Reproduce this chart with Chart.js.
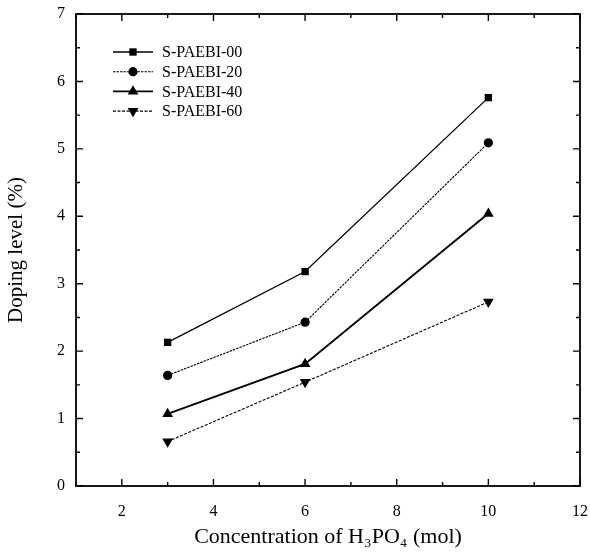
<!DOCTYPE html>
<html><head><meta charset="utf-8">
<script src="https://cdn.jsdelivr.net/npm/chart.js@4/dist/chart.umd.min.js"></script>
<style>html,body{margin:0;padding:0;background:#fff}#wrap{width:590px;height:554px}</style>
</head><body><div id="wrap"><canvas id="c" width="590" height="554"></canvas></div>
<script>
const concentrations = [3, 6, 10];
const seriesNames = ["S-PAEBI-00", "S-PAEBI-20", "S-PAEBI-40", "S-PAEBI-60"];
const paebi00 = [2.13, 3.18, 5.76];
const paebi20 = [1.64, 2.43, 5.09];
const paebi40 = [1.07, 1.81, 4.04];
const paebi60 = [0.66, 1.54, 2.73];
const xTickLabels = [2, 4, 6, 8, 10, 12];
const yTickLabels = [0, 1, 2, 3, 4, 5, 6, 7];

const FONT = "'Liberation Serif','Times New Roman',serif";
function pts(vals){ return concentrations.map((x,i)=>({x:x,y:vals[i]})); }
const styles = [
  {pointStyle:'rect', radius:5.2, rot:0, width:1.3, dash:[]},
  {pointStyle:'circle', radius:4.6, rot:0, width:1.1, dash:[2.5,1]},
  {pointStyle:'triangle', radius:6.2, rot:0, width:1.9, dash:[]},
  {pointStyle:'triangle', radius:6.2, rot:180, width:1.1, dash:[3,1.5]}
];
const allVals = [paebi00, paebi20, paebi40, paebi60];
const datasets = allVals.map((v,i)=>({
  label: seriesNames[i], data: pts(v), showLine:true,
  borderColor:'#000', backgroundColor:'#000', borderWidth:styles[i].width,
  borderDash:styles[i].dash, pointStyle:styles[i].pointStyle,
  pointRadius:styles[i].radius, pointRotation:styles[i].rot,
  pointBorderWidth:0, pointBackgroundColor:'#000', tension:0
}));

const framePlugin = {
  id:'frame',
  afterDraw(chart){
    const ctx = chart.ctx, a = chart.chartArea, xs = chart.scales.x, ys = chart.scales.y;
    ctx.save();
    ctx.strokeStyle='#000'; ctx.lineWidth=1.8;
    ctx.strokeRect(a.left, a.top, a.right-a.left, a.bottom-a.top);
    ctx.lineWidth=1.4;
    for(let v=1; v<=12; v++){
      const px = xs.getPixelForValue(v);
      const len = (v%2===0)?7:4;
      ctx.beginPath(); ctx.moveTo(px,a.bottom); ctx.lineTo(px,a.bottom-len);
      ctx.moveTo(px,a.top); ctx.lineTo(px,a.top+len); ctx.stroke();
    }
    for(let k=0; k<=14; k++){
      const v=k/2, py = ys.getPixelForValue(v);
      const len = (k%2===0)?7:4;
      ctx.beginPath(); ctx.moveTo(a.left,py); ctx.lineTo(a.left+len,py);
      ctx.moveTo(a.right,py); ctx.lineTo(a.right-len,py); ctx.stroke();
    }
    // legend
    const x0=113, x1=153, xm=133, tx=162, y0=52, dy=19.7;
    chart.data.datasets.forEach((ds,i)=>{
      const y=y0+i*dy;
      ctx.strokeStyle='#000'; ctx.lineWidth=ds.borderWidth; ctx.setLineDash(ds.borderDash||[]);
      ctx.beginPath(); ctx.moveTo(x0,y); ctx.lineTo(x1,y); ctx.stroke();
      ctx.setLineDash([]);
      ctx.fillStyle='#000';
      Chart.helpers.drawPoint(ctx,{pointStyle:ds.pointStyle,radius:ds.pointRadius,rotation:ds.pointRotation,borderWidth:0},xm,y);
      ctx.font = "16px "+FONT; ctx.textBaseline='middle'; ctx.textAlign='left';
      ctx.fillText(ds.label, tx, y+1);
    });
    ctx.restore();
  }
};

new Chart(document.getElementById('c'), {
  type:'scatter',
  data:{datasets:datasets},
  options:{
    responsive:false, animation:false, maintainAspectRatio:false,
    layout:{padding:{top:14,right:10,left:0,bottom:0}},
    plugins:{legend:{display:false}, tooltip:{enabled:false}},
    scales:{
      x:{type:'linear', min:1, max:12,
        afterBuildTicks(s){ s.ticks = xTickLabels.map(v=>({value:v})); },
        grid:{display:false, drawTicks:false}, border:{display:false},
        ticks:{color:'#000', padding:16, font:{family:FONT,size:16}, maxRotation:0},
        title:{display:true, text:'Concentration of H\u2083PO\u2084 (mol)', color:'#000', font:{family:FONT,size:22}, padding:{top:8}},
        afterFit(s){ s.height = 68; s.paddingLeft = 0; s.paddingRight = 0; }
      },
      y:{type:'linear', min:0, max:7,
        afterBuildTicks(s){ s.ticks = yTickLabels.map(v=>({value:v})); },
        grid:{display:false, drawTicks:false}, border:{display:false},
        ticks:{color:'#000', padding:11, font:{family:FONT,size:16}},
        title:{display:true, text:'Doping level (%)', color:'#000', font:{family:FONT,size:21}, padding:{top:4,bottom:4}},
        afterFit(s){ s.width = 76; s.paddingTop = 0; s.paddingBottom = 0; }
      }
    }
  },
  plugins:[framePlugin]
});
</script></body></html>
